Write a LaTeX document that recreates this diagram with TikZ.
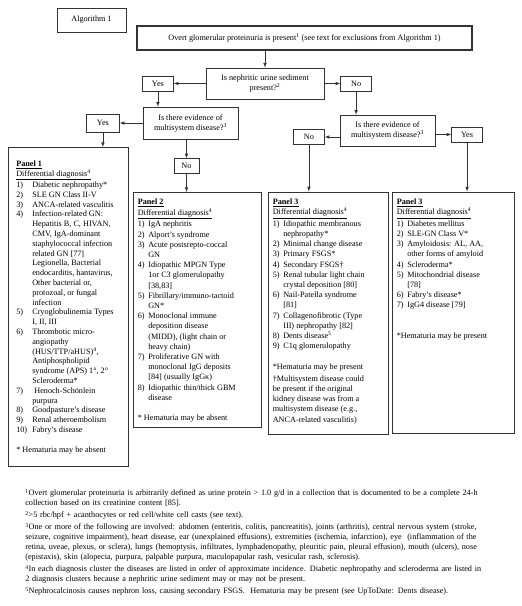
\documentclass[tikz,border=0pt]{standalone}
\usepackage{fontspec}
\setmainfont{Liberation Serif}
\usetikzlibrary{positioning}

\newlength{\dxhang}
\setlength{\dxhang}{10.5pt}
\newcommand{\dx}[2]{\par\hangindent=\dxhang\hangafter=1\noindent\makebox[\dxhang][l]{#1)}#2}
\newcommand{\dxhead}[1]{\noindent\underline{\textbf{Panel #1}}\par\noindent\underline{Differential diagnosis\textsuperscript{4}}\par\vspace{1.5pt}}
\newcommand{\dxgap}{\par\vspace{\baselineskip}}
\newcommand{\dxpanel}[5]{\parbox[t][#2][t]{#1}{\fontsize{8.2}{#4}\selectfont\raggedright\vspace*{#3}#5}}

\begin{document}
\begin{tikzpicture}[x=1pt, y=1pt, -latex, semithick, draw=black!80, box/.style={draw, align=center, font=\fontsize{8.2}{10}\selectfont, inner sep=2pt}, ans/.style={box, minimum width=31pt, minimum height=15pt, inner sep=0pt}, panel/.style={draw, anchor=north west, inner ysep=0pt}]
	\useasboundingbox (0,0) rectangle (522,-606);
	\node[box, minimum width=69pt, minimum height=24pt] (alg) at (91.5,-20) {Algorithm 1};
	\node[box, line width=2pt, minimum width=335pt, minimum height=24pt] (top) at (304.5,-38) {Overt glomerular proteinuria is present\textsuperscript{1} (see text for exclusions from Algorithm 1)};
	\node[box, minimum width=118pt, minimum height=31pt] (q1) at (265,-83.5) {Is nephritic urine sediment\\present?\textsuperscript{2}};
	\node[ans, left=32pt of q1] (yes1) {Yes};
	\node[ans, right=16pt of q1] (no1) {No};
	\node[box, minimum width=95pt, minimum height=32pt] (q2l) at (190.5,-123) {Is there evidence of\\multisystem disease?\textsuperscript{3}};
	\node[ans, minimum width=33pt, minimum height=18pt, left=23pt of q2l] (yes2) {Yes};
	\node[ans, minimum width=25pt, below=19pt of q2l, xshift=-4pt] (no2) {No};
	\node[box, minimum width=95pt, minimum height=31pt] (q2r) at (387.5,-130.5) {Is there evidence of\\multisystem disease?\textsuperscript{3}};
	\node[ans, left=15pt of q2r, yshift=-6.5pt] (no3) {No};
	\node[ans, right=16pt of q2r, yshift=-4pt] (yes3) {Yes};

	\node[panel, inner xsep=8pt] (p1) at (8,-147) {\dxpanel{104pt}{319pt}{13.5pt}{9.8pt}{\setlength{\dxhang}{16pt}%
		\dxhead{1}
		\dx{1}{Diabetic nephropathy*}
		\dx{2}{SLE GN Class II-V}
		\dx{3}{ANCA-related vasculitis}
		\dx{4}{Infection-related GN:\newline Hepatitis B, C, HIVAN,\newline CMV, IgA-dominant\newline staphylococcal infection\newline related GN [77]\newline Legionella, Bacterial\newline endocarditis, hantavirus,\newline Other bacterial or,\newline protozoal, or fungal\newline infection}
		\dx{5}{Cryoglobulinemia Types\newline I, II, III}
		\dx{6}{Thrombotic micro-\newline angiopathy\newline (HUS/TTP/aHUS)\textsuperscript{4},\newline Antiphospholipid\newline syndrome (APS) 1°, 2°\newline Scleroderma*}
		\dx{7}{\ Henoch-Schönlein\newline purpura}
		\dx{8}{Goodpasture’s disease}
		\dx{9}{Renal atheroembolism}
		\dx{10}{Fabry’s disease}
		\dxgap\noindent * Hematuria may be absent}};
	\node[panel, inner xsep=4.5pt] (p2) at (133,-192) {\dxpanel{119pt}{235pt}{7pt}{10.2pt}{%
		\dxhead{2}
		\dx{1}{IgA nephritis}
		\dx{2}{Alport’s syndrome}
		\dx{3}{Acute postsrepto-coccal\newline GN}
		\dx{4}{Idiopathic MPGN Type\newline 1or C3 glomerulopathy\newline [38,83]}
		\dx{5}{Fibrillary/immuno-tactoid\newline GN*}
		\dx{6}{Monoclonal immune\newline deposition disease\newline (MIDD), (light chain or\newline heavy chain)}
		\dx{7}{Proliferative GN with\newline monoclonal IgG deposits\newline [84] (usually IgGκ)}
		\dx{8}{Idiopathic thin/thick GBM\newline disease}
		\dxgap\noindent * Hematuria may be absent}};
	\node[panel, inner xsep=4.5pt] (p3m) at (268,-191.5) {\dxpanel{111pt}{242.5pt}{7pt}{10.2pt}{%
		\dxhead{3}
		\dx{1}{Idiopathic membranous\newline nephropathy*}
		\dx{2}{Minimal change disease}
		\dx{3}{Primary FSGS*}
		\dx{4}{Secondary FSGS†}
		\dx{5}{Renal tubular light chain\newline crystal deposition [80]}
		\dx{6}{Nail-Patella syndrome\newline [81]}
		\dx{7}{Collagenofibrotic (Type\newline III) nephropathy [82]}
		\dx{8}{Dents disease\textsuperscript{5}}
		\dx{9}{C1q glomerulopathy}
		\dxgap\noindent *Hematuria may be present\par\vspace{2pt}
		\noindent †Multisystem disease could\newline be present if the original\newline kidney disease was from a\newline multisystem disease (e.g.,\newline ANCA-related vasculitis)}};
	\node[panel, inner xsep=4.5pt] (p3r) at (392,-191.5) {\dxpanel{113pt}{241.5pt}{7pt}{10.2pt}{%
		\dxhead{3}
		\dx{1}{Diabetes mellitus}
		\dx{2}{SLE-GN Class V*}
		\dx{3}{Amyloidosis: AL, AA,\newline other forms of amyloid}
		\dx{4}{Scleroderma*}
		\dx{5}{Mitochondrial disease\newline [78]}
		\dx{6}{Fabry’s disease*}
		\dx{7}{IgG4 disease [79]}
		\dxgap\vspace{\baselineskip}\noindent *Hematuria may be present}};

	\path (q1.north |- top.south) edge (q1.north);
	\path (q1) edge (yes1);
	\path (q1) edge (no1);
	\path (yes1) edge (yes1 |- q2l.north);
	\path (q2l) edge (yes2);
	\path (yes2) edge (yes2 |- p1.north);
	\path (no2 |- q2l.south) edge (no2);
	\path (no2) edge (no2 |- p2.north);
	\path (no1) edge (no1 |- q2r.north);
	\path (q2r.west |- no3) edge (no3);
	\path (q2r.east |- yes3) edge (yes3);
	\path (no3) edge (no3 |- p3m.north);
	\path (yes3) edge (yes3 |- p3r.north);

	\node[anchor=north west, text width=495pt, align=left, inner sep=0pt, font=\fontsize{8.2}{10}\selectfont] (notes) at (25,-489) {\textsuperscript{1}Overt glomerular proteinuria is arbitrarily defined as urine protein > 1.0 g/d in a collection that is documented to be a complete 24-h\\collection based on its creatinine content [85].\\[2pt]
	\textsuperscript{2}>5 rbc/hpf + acanthocytes or red cell/white cell casts (see text).\\[2pt]
	\textsuperscript{3}One or more of the following are involved: abdomen (enteritis, colitis, pancreatitis), joints (arthritis), central nervous system (stroke,\\seizure, cognitive impairment), heart disease, ear (unexplained effusions), extremities (ischemia, infarction), eye\ \ (inflammation of the\\retina, uveae, plexus, or sclera), lungs (hemoptysis, infiltrates, lymphadenopathy, pleuritic pain, pleural effusion), mouth (ulcers), nose\\(epistaxis), skin (alopecia, purpura, palpable purpura, maculopapular rash, vesicular rash, sclerosis).\\[2pt]
	\textsuperscript{4}In each diagnosis cluster the diseases are listed in order of approximate incidence. Diabetic nephropathy and scleroderma are listed in\\2 diagnosis clusters because a nephritic urine sediment may or may not be present.\\[2pt]
	\textsuperscript{5}Nephrocalcinosis causes nephron loss, causing secondary FSGS.\ \ Hematuria may be present (see UpToDate: Dents disease).};
\end{tikzpicture}
\end{document}
